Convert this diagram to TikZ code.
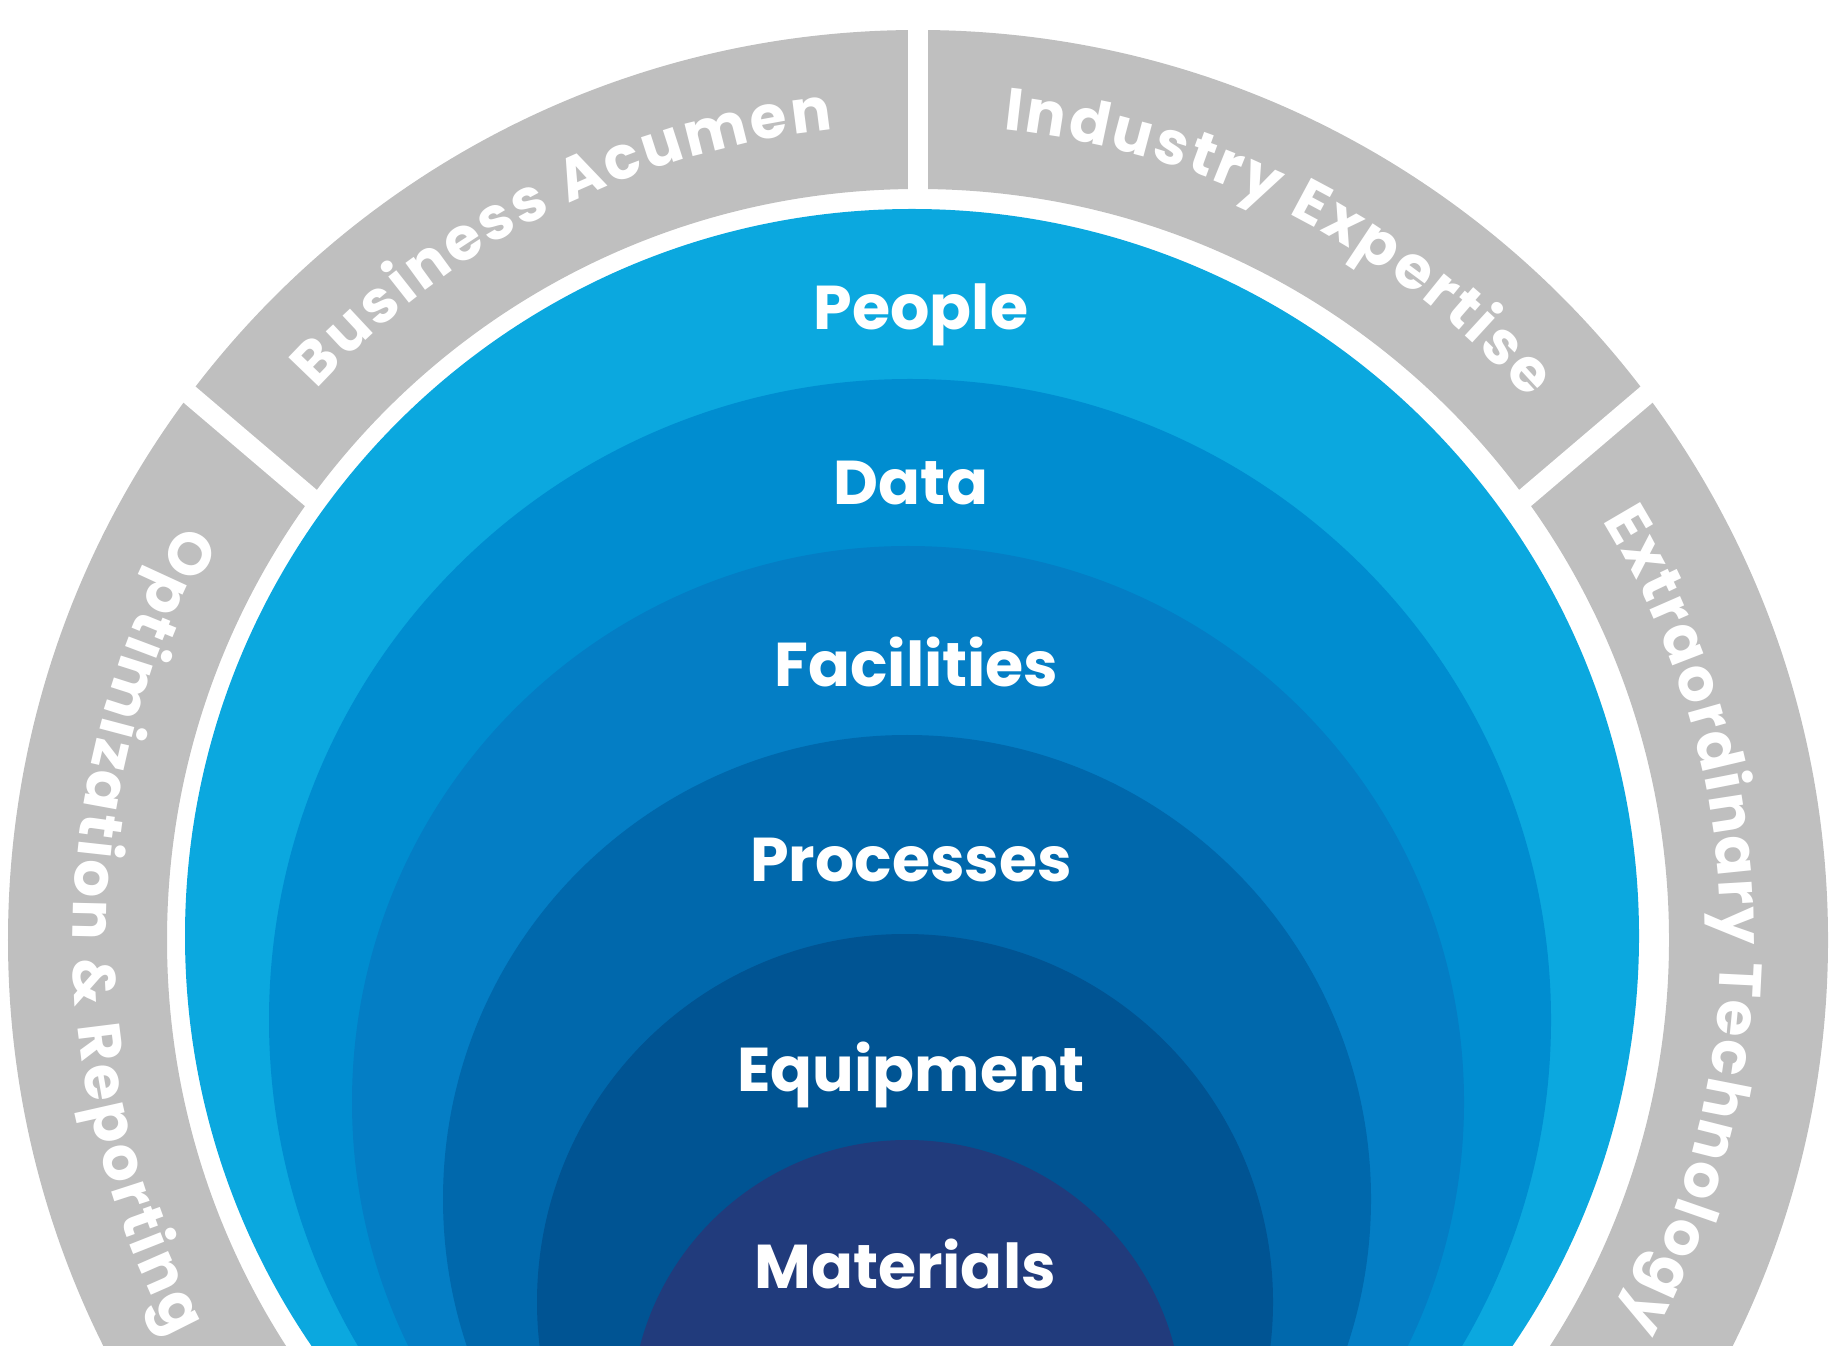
\documentclass[tikz,border=0pt]{standalone}
\usepackage{fontspec}
\setmainfont{Poppins}
\usetikzlibrary{decorations.text}
\definecolor{cgrey}{HTML}{BFBFBF}
\definecolor{cpeople}{HTML}{0BA8DF}
\definecolor{cdata}{HTML}{008DD0}
\definecolor{cfacil}{HTML}{047EC5}
\definecolor{cproc}{HTML}{0068AC}
\definecolor{cequip}{HTML}{005493}
\definecolor{cmat}{HTML}{213B7C}
\newcommand\ringfont{\fontsize{17}{20}\selectfont\bfseries}
\tikzset{
  layer/.style={font=\fontsize{17.6}{21}\selectfont\bfseries, text=white, anchor=base, inner sep=0pt},
  gap/.style={draw=white, line width=2mm},
  ring text/.style={decorate, decoration={text along path, text align={fit to path}, text color=white, text={|\ringfont|#1}}},
}

\begin{document}
\begin{tikzpicture}
  \useasboundingbox (0,0) rectangle (18.4,13.45);
  \clip (0,0) rectangle (18.4,13.45);
  \coordinate (ctr) at (9.18,4.05);
  % grey ring
  \fill[cgrey, even odd rule] (ctr) circle[radius=9.10] (ctr) circle[radius=7.51];
  % white gaps between the ring parts
  \draw[gap] (9.18,13.6) -- (9.18,11.3);
  \draw[gap] (1.665,9.70) -- (3.25,8.35);
  \draw[gap] (16.695,9.70) -- (15.11,8.35);
  % nested layers, all touching at the bottom
  \foreach \x/\y/\r/\col in {9.12/4.09/7.27/cpeople, 9.10/3.25/6.41/cdata, 9.08/2.43/5.56/cfacil,
    9.07/1.46/4.64/cproc, 9.05/0.43/3.68/cequip, 9.07/-0.71/2.76/cmat}
    \fill[\col] (\x,\y) circle[radius=\r];
  % labels
  \foreach \nm/\x/\y/\txt in {people/9.21/10.15/People, data/9.11/8.40/Data, facil/9.165/6.585/Facilities,
    proc/9.11/4.64/Processes, equip/9.11/2.54/Equipment, mat/9.05/0.565/Materials}
    \node[layer] (\nm) at (\x,\y) {\txt};
  % ring texts
  \path[ring text={Business Acumen}, shift={(ctr)}] (137.5:8.15) arc[start angle=137.5, end angle=96, radius=8.15];
  \path[ring text={Industry Expertise}, shift={(ctr)}] (84:8.15) arc[start angle=84, end angle=41.5, radius=8.15];
  \path[ring text={Extraordinary Technology}, shift={(ctr)}] (31.5:8.03) arc[start angle=31.5, end angle=-28.5, radius=8.03];
  \path[ring text={Optimization {\&} Reporting}, shift={(ctr)}] (150.5:8.45) arc[start angle=150.5, end angle=208, radius=8.45];
\end{tikzpicture}
\end{document}
